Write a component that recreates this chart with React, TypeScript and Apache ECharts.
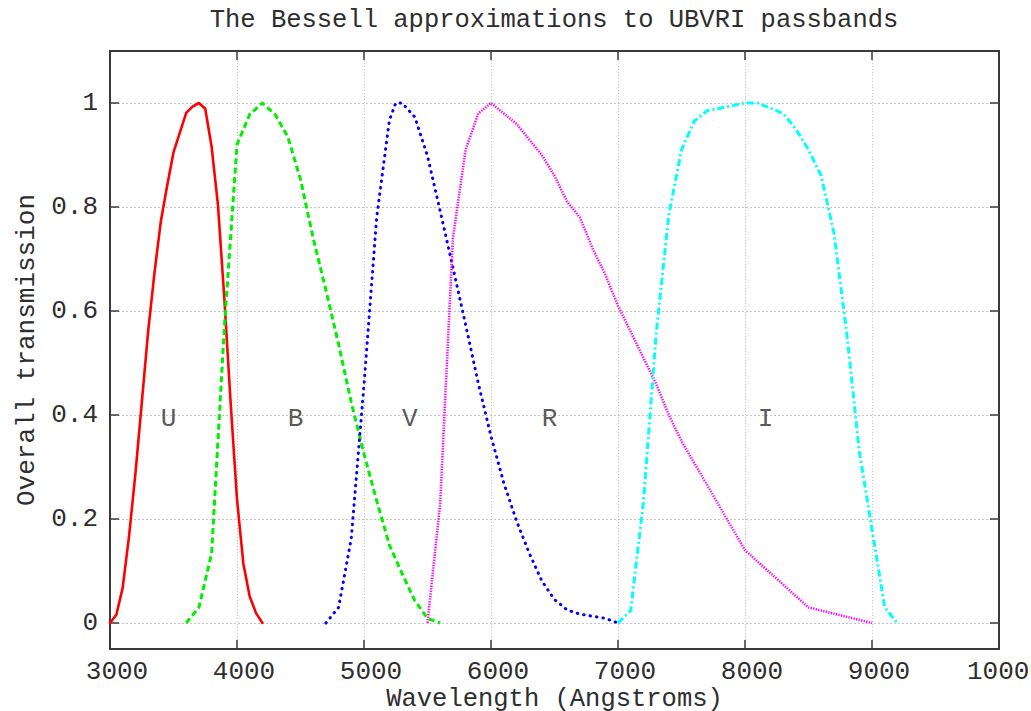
import React, { useEffect, useRef } from "react";
import * as echarts from "echarts";

// ---- Data (Bessell passbands) ----
const uWave = [3000, 3050, 3100, 3150, 3200, 3250, 3300, 3350, 3400, 3450, 3500, 3550, 3600, 3650, 3700, 3750, 3800, 3850, 3900, 3950, 4000, 4050, 4100, 4150, 4200];
const uTrans = [0.0, 0.016, 0.068, 0.167, 0.287, 0.423, 0.56, 0.673, 0.772, 0.841, 0.905, 0.943, 0.981, 0.993, 1.0, 0.989, 0.916, 0.804, 0.625, 0.423, 0.238, 0.114, 0.051, 0.019, 0.0];

const bWave = [3600, 3700, 3800, 3900, 4000, 4100, 4200, 4300, 4400, 4500, 4600, 4700, 4800, 4900, 5000, 5100, 5200, 5300, 5400, 5500, 5600];
const bTrans = [0.0, 0.03, 0.134, 0.567, 0.92, 0.978, 1.0, 0.978, 0.935, 0.853, 0.74, 0.64, 0.536, 0.424, 0.325, 0.235, 0.15, 0.095, 0.043, 0.009, 0.0];

const vWave = [4700, 4800, 4900, 5000, 5100, 5200, 5250, 5300, 5400, 5500, 5600, 5700, 5800, 5900, 6000, 6100, 6200, 6300, 6400, 6500, 6600, 6700, 6800, 6900, 7000];
const vTrans = [0.0, 0.03, 0.163, 0.458, 0.78, 0.967, 1.0, 1.0, 0.973, 0.898, 0.792, 0.684, 0.574, 0.461, 0.359, 0.27, 0.197, 0.135, 0.081, 0.045, 0.025, 0.017, 0.013, 0.009, 0.0];

const rWave = [5500, 5600, 5700, 5800, 5900, 6000, 6100, 6200, 6300, 6400, 6500, 6600, 6700, 6800, 6900, 7000, 7100, 7200, 7300, 7400, 7500, 8000, 8500, 9000];
const rTrans = [0.0, 0.23, 0.74, 0.91, 0.98, 1.0, 0.98, 0.96, 0.93, 0.9, 0.86, 0.81, 0.78, 0.72, 0.67, 0.61, 0.56, 0.51, 0.46, 0.4, 0.35, 0.14, 0.03, 0.0];

const iWave = [7000, 7100, 7200, 7300, 7400, 7500, 7600, 7700, 7800, 7900, 8000, 8100, 8200, 8300, 8400, 8500, 8600, 8700, 8800, 8900, 9000, 9100, 9200];
const iTrans = [0.0, 0.024, 0.232, 0.555, 0.785, 0.91, 0.965, 0.985, 0.99, 0.995, 1.0, 1.0, 0.99, 0.98, 0.95, 0.91, 0.86, 0.75, 0.56, 0.33, 0.18, 0.03, 0.0];

const bandNames = ["U", "B", "V", "R", "I"];
const bandLabelX = [3400, 4400, 5300, 6400, 8100];
const bandLabelY = [0.4, 0.4, 0.4, 0.4, 0.4];

const yTicks = [0, 0.2, 0.4, 0.6, 0.8, 1];

const FONT = "'Liberation Mono', 'Courier New', monospace";
const TEXT = "#2e2e2e";
const AXIS = "#3a3a3a";
const GRID = "#c4c4c4";
const FS = 26;

const zip = (xs: number[], ys: number[]) => xs.map((x, i) => [x, ys[i]]);

export default function App() {
  const ref = useRef<HTMLDivElement>(null);

  useEffect(() => {
    if (!ref.current) return;
    const chart = echarts.init(ref.current, undefined, { renderer: "svg" });

    const baseX = {
      type: "value" as const,
      min: 3000,
      max: 10000,
      interval: 1000,
    };
    const baseY = {
      type: "value" as const,
      min: -0.05,
      max: 1.1,
    };

    const lineSeries = (name: string, data: number[][], color: string, width: number, type: any, cap: string) => ({
      name,
      type: "line",
      data,
      showSymbol: false,
      symbol: "none",
      smooth: false,
      clip: true,
      lineStyle: { color, width, type, cap, join: "round" },
      z: 3,
    });

    chart.setOption({
      animation: false,
      backgroundColor: "#ffffff",
      title: {
        text: "The Bessell approximations to UBVRI passbands",
        left: 554,
        top: 7,
        textAlign: "center",
        padding: 0,
        textStyle: { fontFamily: FONT, fontSize: 25.5, fontWeight: "normal", color: TEXT },
      },
      grid: { left: 110, right: 32, top: 51, bottom: 62, containLabel: false, outerBoundsMode: "none" },
      xAxis: [
        {
          ...baseX,
          position: "bottom",
          name: "Wavelength (Angstroms)",
          nameLocation: "middle",
          nameGap: 39,
          nameMoveOverlap: false,
          nameTextStyle: { fontFamily: FONT, fontSize: 25.5, lineHeight: 22, color: TEXT },
          axisLine: { show: true, onZero: false, lineStyle: { color: AXIS, width: 2 } },
          axisTick: { show: true, inside: true, length: 9, lineStyle: { color: AXIS, width: 1.5 } },
          axisLabel: {
            fontFamily: FONT, fontSize: FS, lineHeight: 24, color: TEXT, margin: 11,
            padding: [0, 0, 0, 14],
            showMinLabel: true, showMaxLabel: true,
            formatter: (v: number) => String(v),
          },
          splitLine: { show: true, lineStyle: { color: GRID, width: 1, type: [1, 2] } },
        },
        {
          ...baseX,
          position: "top",
          axisLine: { show: true, onZero: false, lineStyle: { color: AXIS, width: 2 } },
          axisTick: { show: true, inside: true, length: 9, lineStyle: { color: AXIS, width: 1.5 } },
          axisLabel: { show: false },
          splitLine: { show: false },
        },
      ],
      yAxis: [
        {
          ...baseY,
          position: "left",
          name: "Overall transmission",
          nameLocation: "middle",
          nameGap: 70,
          nameTextStyle: { fontFamily: FONT, fontSize: FS, color: TEXT },
          axisLine: { show: true, onZero: false, lineStyle: { color: AXIS, width: 2 } },
          axisTick: { show: true, inside: true, length: 9, customValues: yTicks, lineStyle: { color: AXIS, width: 1.5 } },
          axisLabel: {
            fontFamily: FONT, fontSize: FS, color: TEXT, margin: 12,
            padding: [6, 0, 0, 0],
            customValues: yTicks,
            formatter: (v: number) => (v === 0 ? "0" : v === 1 ? "1" : String(Math.round(v * 10) / 10)),
          },
          splitLine: { show: true, lineStyle: { color: GRID, width: 1, type: [2, 2] } },
        },
        {
          ...baseY,
          position: "right",
          axisLine: { show: true, onZero: false, lineStyle: { color: AXIS, width: 2 } },
          axisTick: { show: true, inside: true, length: 9, customValues: yTicks, lineStyle: { color: AXIS, width: 1.5 } },
          axisLabel: { show: false, customValues: yTicks },
          splitLine: { show: false },
        },
      ],
      series: [
        lineSeries("U", zip(uWave, uTrans), "#ff0000", 2.6, "solid", "round"),
        lineSeries("B", zip(bWave, bTrans), "#00ee00", 3, [6, 3.5], "butt"),
        lineSeries("V", zip(vWave, vTrans), "#0000ff", 3, [0.5, 6], "round"),
        lineSeries("R", zip(rWave, rTrans), "#ff00ff", 2.6, [1.3, 1.3], "butt"),
        lineSeries("I", zip(iWave, iTrans), "#00ffff", 3, [7, 3, 2, 3], "butt"),
        {
          name: "labels",
          type: "scatter",
          symbolSize: 0,
          data: bandNames.map((n, i) => ({ name: n, value: [bandLabelX[i], bandLabelY[i]] })),
          label: {
            show: true,
            position: "right",
            distance: 0,
            offset: [0, 4],
            formatter: (p: any) => p.name,
            fontFamily: FONT,
            fontSize: FS,
            color: TEXT,
          },
          silent: true,
          z: 4,
        },
      ],
    });

    return () => chart.dispose();
  }, []);

  return (
    <div
      ref={ref}
      style={{ position: "fixed", left: 0, top: 0, width: 1031, height: 711, background: "#fff" }}
    />
  );
}
